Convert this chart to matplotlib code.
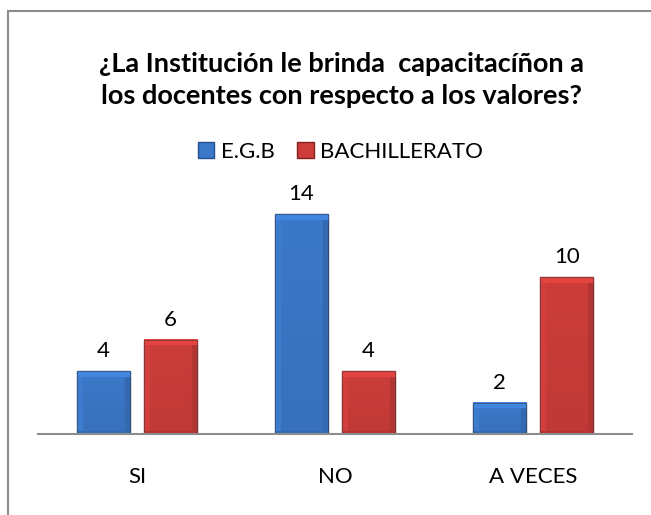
import numpy as np
import matplotlib
matplotlib.use('Agg')
import matplotlib.pyplot as plt
from matplotlib.patches import Rectangle
from matplotlib.colors import to_rgb

categorias = ['SI', 'NO', 'A VECES']
egb = [4, 14, 2]
bachillerato = [6, 4, 10]
series = ['E.G.B', 'BACHILLERATO']
titulo = '¿La Institución le brinda  capacitacíñon a\nlos docentes con respecto a los valores?'

plt.rcParams['font.family'] = ['Lato', 'DejaVu Sans']

PX = 15.7  # pixeles por unidad en el eje y


def bisel(ax, bar, color, bw=6):
    # sombreado tipo Excel sobre cada barra
    x0, w, h = bar.get_x(), bar.get_width(), bar.get_height()
    nx = 53
    ny = max(int(h * PX), bw * 2 + 2)
    base = np.array(to_rgb(color))
    yy, xx = np.mgrid[0:ny, 0:nx]
    f = 1.0 - 0.06 * (yy / ny)
    top = yy < bw
    left = (xx < bw) & ~top
    right = (xx >= nx - bw) & ~top
    bottom = (yy >= ny - 3)
    f[top] = 1.12
    f[left] = 1.03
    f[right] = 0.88
    f[bottom] = 0.88
    img = np.clip(base[None, None, :] * f[:, :, None], 0, 1)
    ax.imshow(img, extent=(x0, x0 + w, 0, h), aspect='auto', zorder=3, interpolation='bilinear')


fig = plt.figure(figsize=(6.51, 5.15), dpi=100)
# borde del grafico (solo se ven arriba e izquierda)
fig.add_artist(Rectangle((8 / 651, -0.1), 1.2, 1 - 11 / 515 + 0.1, transform=fig.transFigure,
                         fill=False, edgecolor='#8c8c8c', linewidth=1.5))

ax = fig.add_axes([38 / 651, (515 - 434) / 515, 594 / 651, 260 / 515])
x = np.arange(len(categorias))
w = 0.27
off = 0.17
b1 = ax.bar(x - off, egb, w, color='#3b78c8', edgecolor='#23508c', linewidth=1, zorder=2)
b2 = ax.bar(x + off, bachillerato, w, color='#cc3d3a', edgecolor='#86201e', linewidth=1, zorder=2)
for b in b1:
    bisel(ax, b, '#3b78c8')
for b in b2:
    bisel(ax, b, '#cc3d3a')
for b in list(b1) + list(b2):
    ax.add_patch(Rectangle((b.get_x(), 0), b.get_width(), b.get_height(), fill=False,
                           edgecolor='#333333', linewidth=0.6, alpha=0.6, zorder=4))

ax.set_xlim(-0.5, 2.5)
ax.set_ylim(0, 260 / PX)
for s in ['top', 'right', 'left']:
    ax.spines[s].set_visible(False)
ax.spines['bottom'].set_color('#8c8c8c')
ax.spines['bottom'].set_linewidth(1.5)
ax.spines['bottom'].set_zorder(5)
ax.set_yticks([])
ax.set_xticks(x)
ax.set_xticklabels(categorias, fontsize=16)
ax.tick_params(axis='x', length=0, pad=24)

for bars, vals in [(b1, egb), (b2, bachillerato)]:
    for b, v in zip(bars, vals):
        ax.annotate(str(v), (b.get_x() + b.get_width() / 2, v), xytext=(0, 7),
                    textcoords='offset points', ha='center', va='bottom', fontsize=16)

fig.text(0.525, 1 - 80 / 515, titulo, ha='center', va='center', fontsize=19.5, fontweight='bold',
         linespacing=1.42)

leg = fig.legend([b1, b2], series, loc='center', bbox_to_anchor=(0.523, 1 - 152 / 515),
                 ncol=2, frameon=False, fontsize=16, handlelength=0.75, handleheight=0.75,
                 columnspacing=1.0, handletextpad=0.3)

fig.savefig('out.png', dpi=100)
